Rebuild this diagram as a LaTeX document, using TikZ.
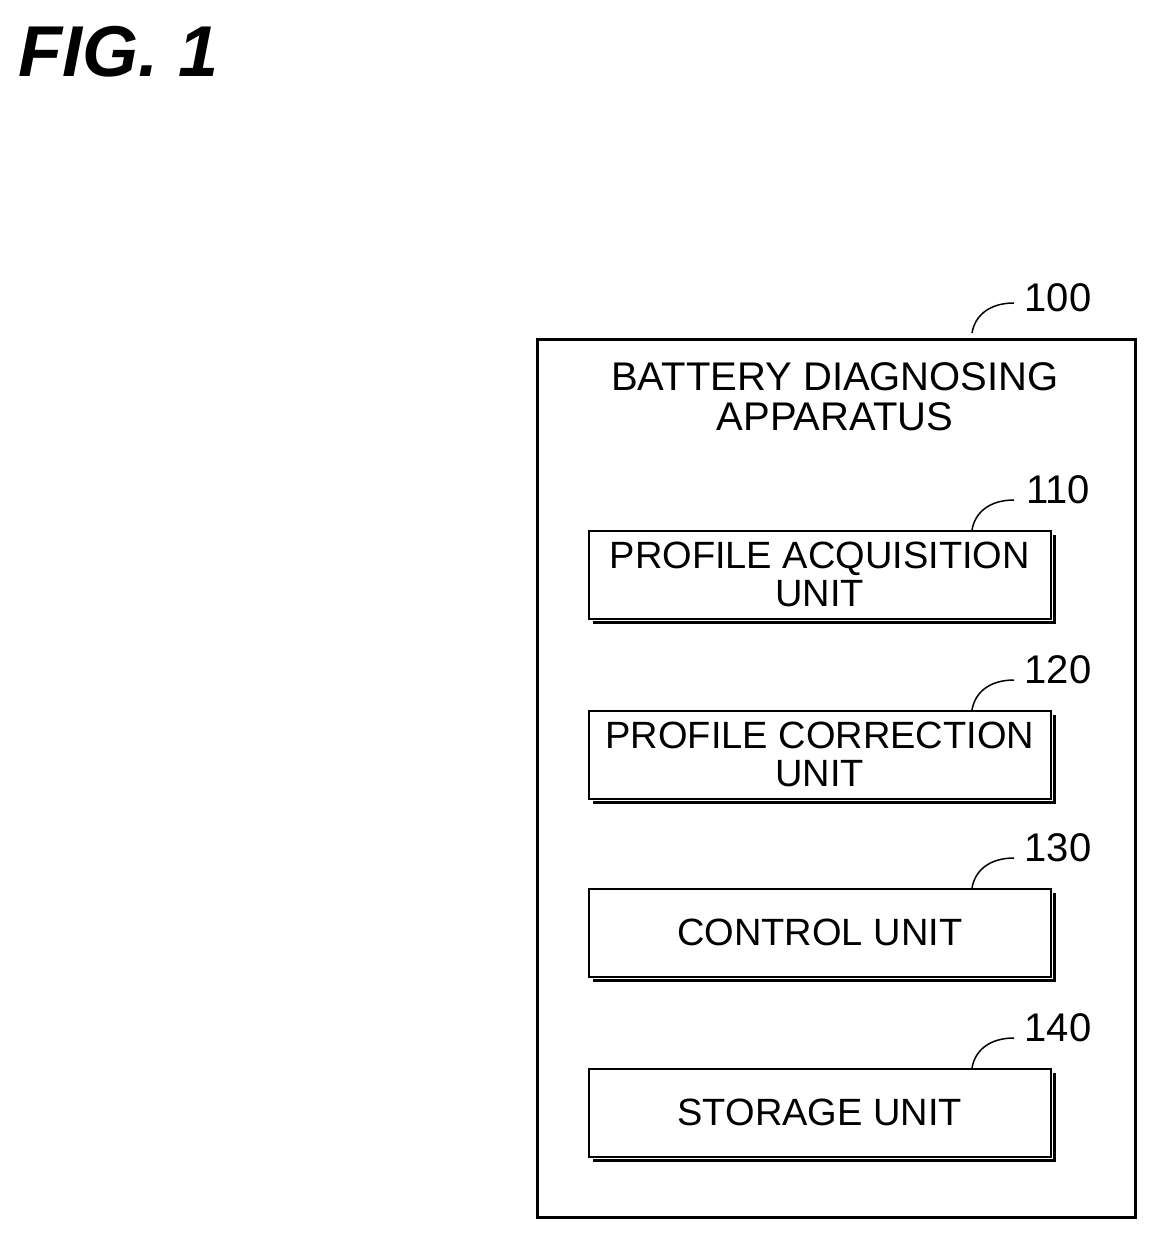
\documentclass[tikz,border=0pt]{standalone}
\usepackage{fontspec}
\setmainfont{Liberation Sans}
\usetikzlibrary{calc}
\begin{document}
\begin{tikzpicture}[x=1pt,y=-1pt,
  lbl/.style={font=\fontsize{40}{40}\selectfont, inner sep=0},
  unit/.style={draw, line width=1.5pt, minimum width=462pt, minimum height=88pt, anchor=north west, align=center, font=\fontsize{38}{38}\selectfont, inner sep=0},
  shadow/.style={line width=3pt}]
\useasboundingbox (0,0) rectangle (1156,1239);
\node[anchor=west, font=\fontsize{72}{72}\selectfont\bfseries\itshape, inner sep=0] (fig) at (18,52) {FIG. 1};
\node[draw, line width=3pt, minimum width=598pt, minimum height=878pt, anchor=north west, inner sep=0] (outer) at (536,338) {};
\node[lbl, align=center] (title) at (835,397) {BATTERY DIAGNOSING\\APPARATUS};
\node[lbl] (n100) at (1058,298) {100};
\draw[line width=1.5pt] (972,333) .. controls (975,315) and (990,303) .. (1014,303);
\foreach \y/\n/\t in {530/110/{PROFILE ACQUISITION\\UNIT}, 710/120/{PROFILE CORRECTION\\UNIT}, 888/130/{CONTROL UNIT}, 1068/140/{STORAGE UNIT}}{
  \node[unit] (u\n) at (588,\y) {\t};
  \draw[shadow] ($(u\n.north east)+(3,5)$) -- ($(u\n.south east)+(3,3)$) -- ($(u\n.south west)+(5,3)$);
  \node[lbl] (l\n) at (1058,\y-40) {\n};
  \draw[line width=1.5pt] (972,\y) .. controls (975,\y-18) and (990,\y-30) .. (1014,\y-30);
}
\end{tikzpicture}
\end{document}
